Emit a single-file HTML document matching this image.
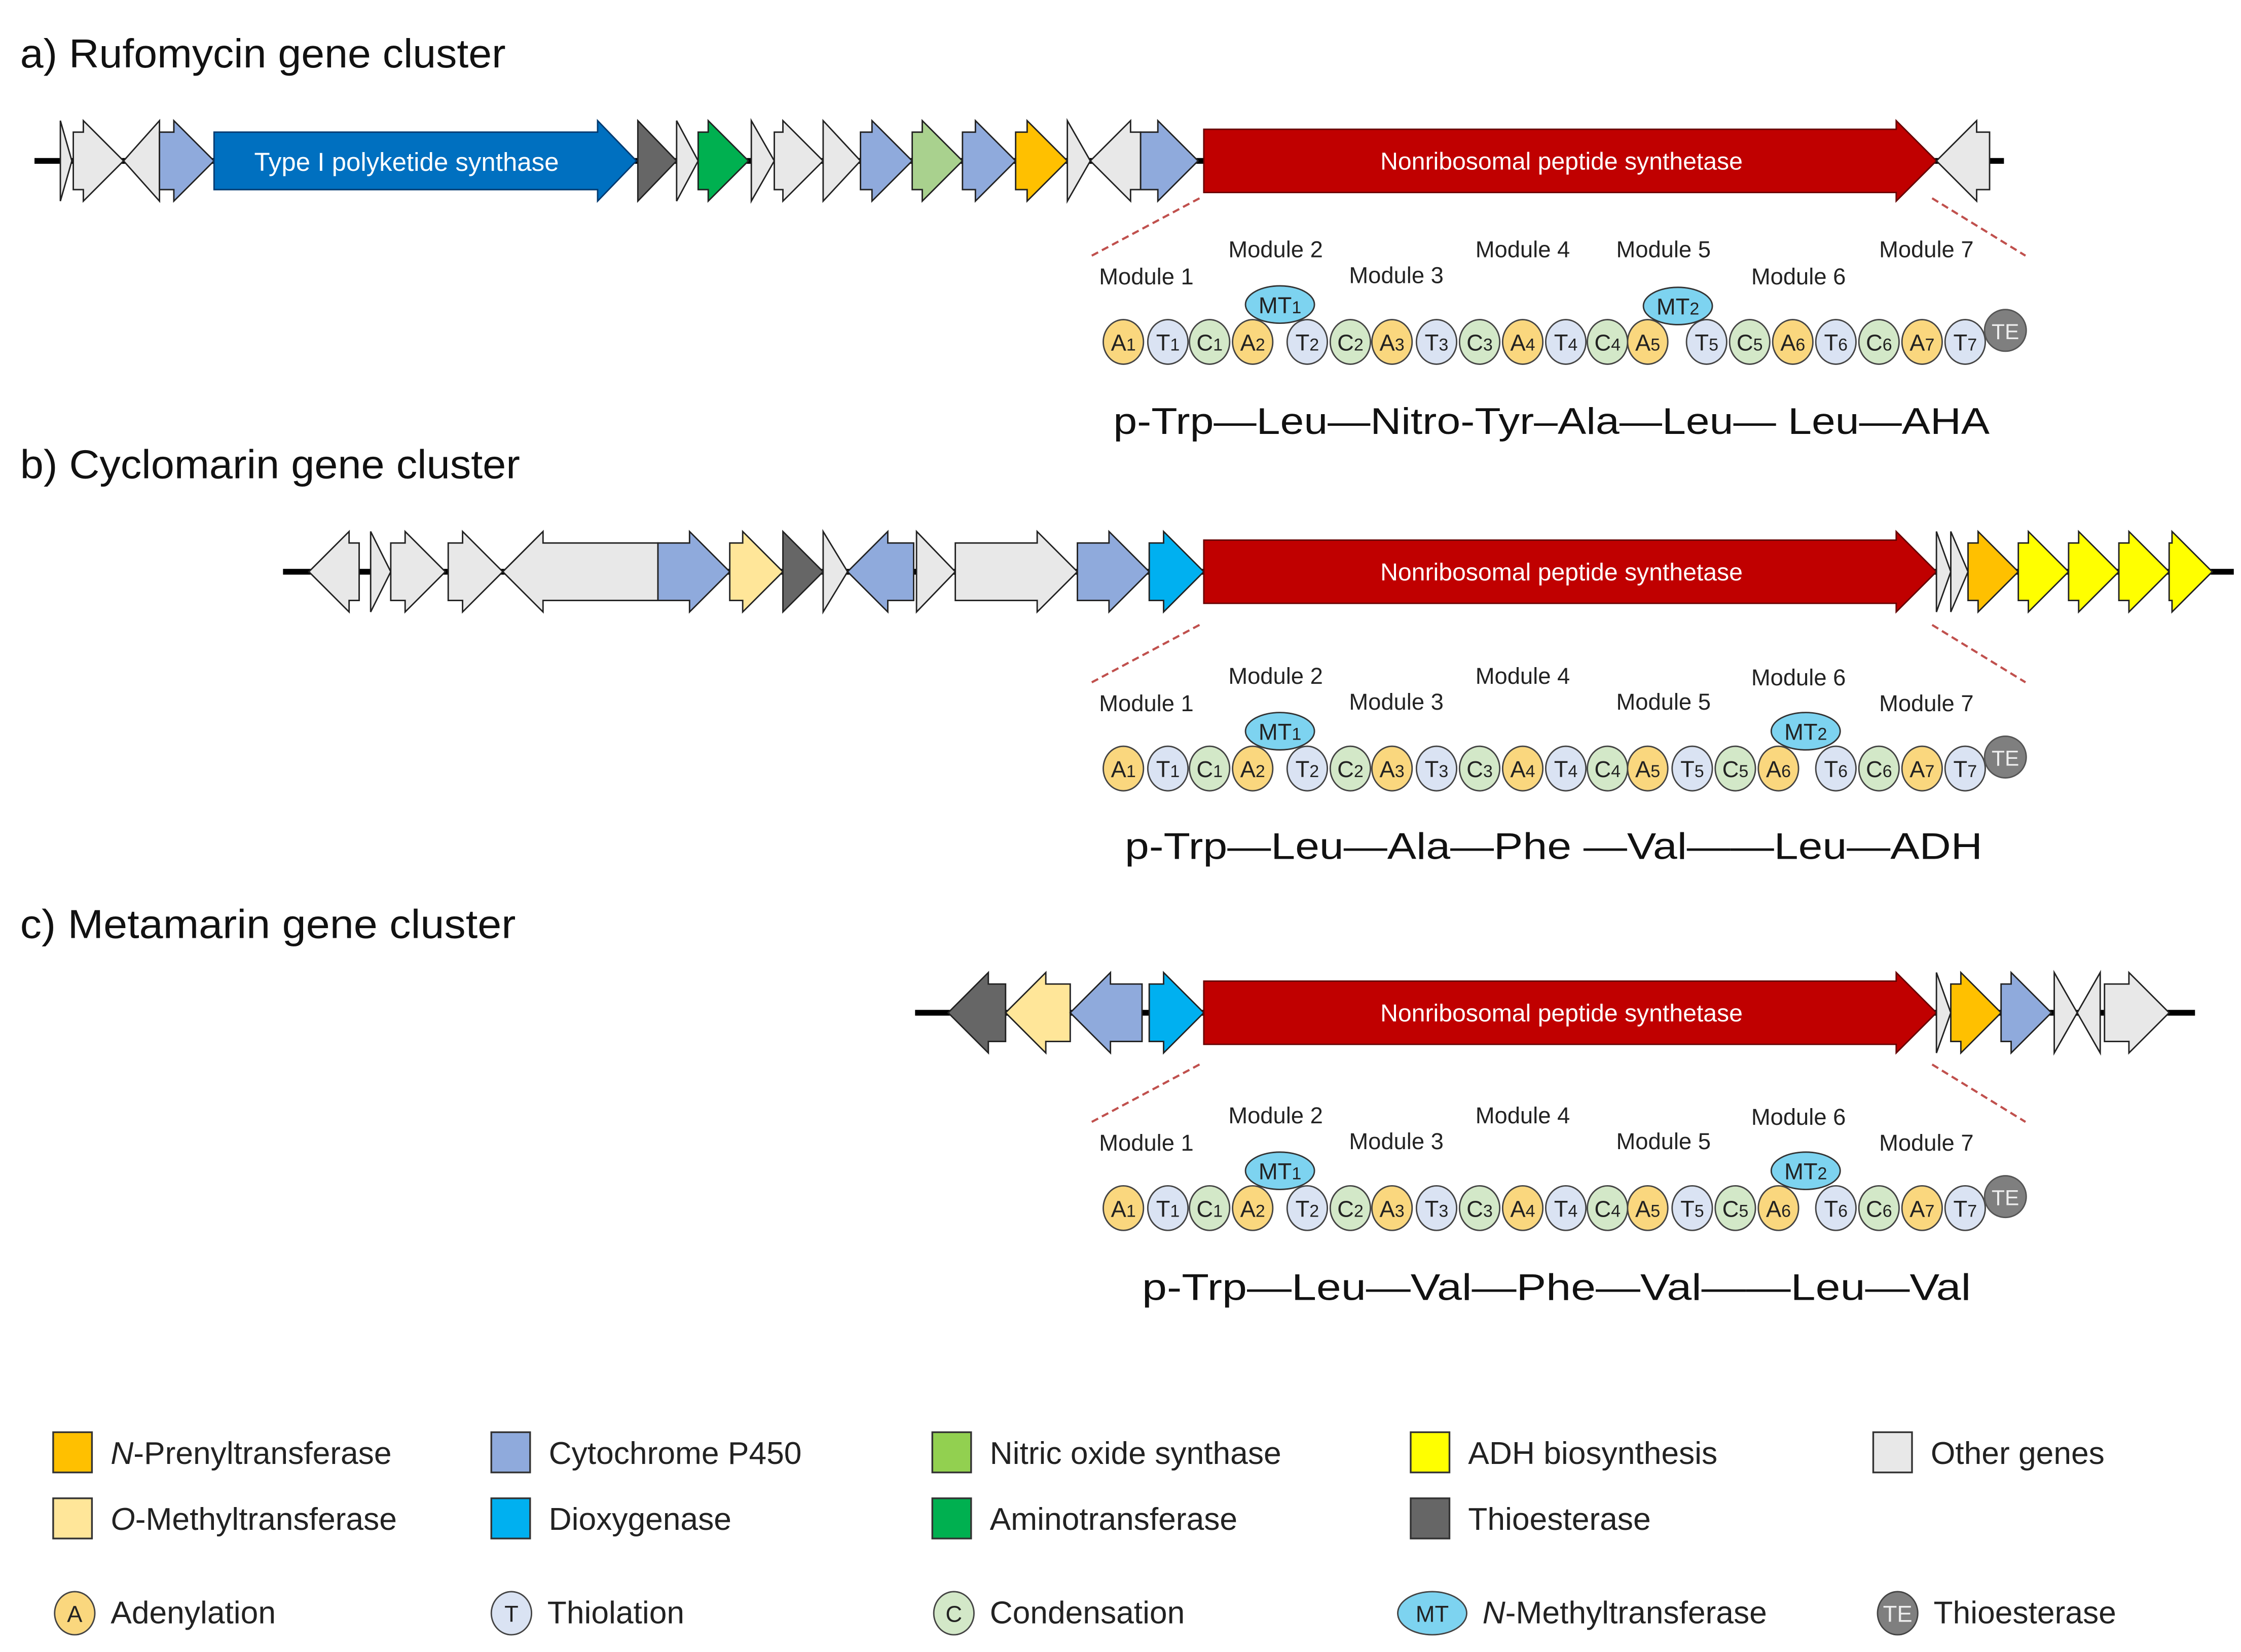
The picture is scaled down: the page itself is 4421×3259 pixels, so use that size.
<!DOCTYPE html>
<html><head><meta charset="utf-8"><style>
html,body{margin:0;padding:0;background:#fff;}
svg{display:block;}
text{font-family:"Liberation Sans",sans-serif;}
</style></head><body>
<svg id="s" width="4421" height="3259" viewBox="0 0 1560 1150" xmlns="http://www.w3.org/2000/svg">
<rect width="1560" height="1150" fill="#fff"/>
<g id="g"></g>
</svg>
<script>
var g=document.getElementById('g'),out='';
function gene(x1,x2,cy,dir,fill,hl,bh,hh,stroke){
  hl=hl||28;bh=bh||20;hh=hh||28;stroke=stroke||'#222';
  var L=x2-x1;if(hl>L)hl=L;
  var p;
  if(dir>0){var h=x2-hl;p=[[x1,cy-bh],[h,cy-bh],[h,cy-hh],[x2,cy],[h,cy+hh],[h,cy+bh],[x1,cy+bh]];}
  else{var h=x1+hl;p=[[x2,cy-bh],[h,cy-bh],[h,cy-hh],[x1,cy],[h,cy+hh],[h,cy+bh],[x2,cy+bh]];}
  out+='<polygon points="'+p.map(function(q){return q.join(',')}).join(' ')+'" fill="'+fill+'" stroke="'+stroke+'" stroke-width="1"/>';
}
function line(x1,x2,cy){out+='<line x1="'+x1+'" y1="'+cy+'" x2="'+x2+'" y2="'+cy+'" stroke="#000" stroke-width="4"/>';}
function txt(x,y,s,size,anchor,fill,extra){out+='<text x="'+x+'" y="'+y+'" font-size="'+size+'" text-anchor="'+(anchor||'start')+'" fill="'+(fill||'#111')+'" '+(extra||'')+'>'+s+'</text>';}
var W='#e8e8e8',B='#8faadc',PKS='#0070c0',DG='#666666',GR='#00b050',LG='#a9d18e',OR='#ffc000',LY='#ffe699',CY='#00b0f0',RED='#c00000',YE='#ffff00';
function nrps(cy){gene(838,1348,cy,1,RED,28,22,28,'#600');txt(1087,cy+6,'Nonribosomal  peptide synthetase',17,'middle','#fff');}
var y=112;line(24,1395,y);
gene(42,50,y,1,W);gene(51,86,y,1,W);gene(86,111,y,-1,W);gene(111,149,y,1,B);
gene(149,443,y,1,PKS,27,20,28,'#003a70');txt(283,119,'Type I polyketide synthase',18,'middle','#fff');
gene(444,471,y,1,DG);gene(471,486,y,1,W);gene(486,521,y,1,GR);gene(523,539,y,1,W);gene(539,573,y,1,W);gene(573,599,y,1,W);
gene(599,635,y,1,B);gene(635,670,y,1,LG);gene(670,707,y,1,B);gene(707,743,y,1,OR);gene(743,759,y,1,W);gene(759,794,y,-1,W);gene(794,834,y,1,B);
nrps(y);gene(1348,1385,y,-1,W);
y=398;line(197,1555,y);
gene(215,250,y,-1,W);gene(258,272,y,1,W);gene(272,310,y,1,W);gene(312,350,y,1,W);gene(350,458,y,-1,W);
gene(458,508,y,1,B);gene(508,545,y,1,LY);gene(545,573,y,1,DG);gene(573,590,y,1,W);gene(590,636,y,-1,B);gene(638,665,y,1,W);
gene(665,750,y,1,W);gene(750,800,y,1,B);gene(800,838,y,1,CY);nrps(y);
gene(1348,1358,y,1,W);gene(1358,1370,y,1,W);gene(1370,1405,y,1,OR);gene(1405,1440,y,1,YE);gene(1440,1475,y,1,YE);gene(1475,1510,y,1,YE);gene(1510,1540,y,1,YE);
y=705;line(637,1528,y);
gene(660,700,y,-1,DG);gene(700,745,y,-1,LY);gene(745,795,y,-1,B);gene(800,838,y,1,CY);nrps(y);
gene(1348,1358,y,1,W);gene(1358,1393,y,1,OR);gene(1393,1428,y,1,B);gene(1430,1446,y,1,W);gene(1446,1462,y,-1,W);gene(1465,1510,y,1,W);
txt(14,47,'a) Rufomycin gene cluster',28,'start','#111','textLength="338" lengthAdjust="spacingAndGlyphs"');
txt(14,333,'b) Cyclomarin gene cluster',28,'start','#111','textLength="348" lengthAdjust="spacingAndGlyphs"');
txt(14,653,'c) Metamarin gene cluster',28,'start','#111','textLength="345" lengthAdjust="spacingAndGlyphs"');
var AC='#fad77e',TC='#dae3f3',CC='#d3e8c8',MC='#7dd3f0';
function dom(x,y,l,sub,fill){out+='<ellipse cx="'+x+'" cy="'+y+'" rx="14" ry="15.5" fill="'+fill+'" stroke="#444" stroke-width="1"/>';
  out+='<text x="'+x+'" y="'+(y+6)+'" font-size="16" text-anchor="middle" fill="#222">'+l+'<tspan font-size="12">'+sub+'</tspan></text>';}
function mods(by,dy,rest,mt1,mt2,labY){
  var names=[['A',1,782],['T',1,813],['C',1,842],['A',2,872],['T',2,910],['C',2,940],['A',3,969],['T',3,1000],['C',3,1030],['A',4,1060],['T',4,1090],['C',4,1119],['A',5,1147]].concat(rest);
  [[835,by-100,760,by-60],[1345,by-100,1410,by-60]].forEach(function(d){out+='<line x1="'+d[0]+'" y1="'+d[1]+'" x2="'+d[2]+'" y2="'+d[3]+'" stroke="#c0504d" stroke-width="1.5" stroke-dasharray="5,3"/>';});
  names.forEach(function(n){dom(n[2],by,n[0],n[1],n[0]=='A'?AC:n[0]=='T'?TC:CC);});
  out+='<circle cx="1396" cy="'+(by-8)+'" r="14.5" fill="#7f7f7f" stroke="#555"/><text x="1396" y="'+(by-2)+'" font-size="15" text-anchor="middle" fill="#eee">TE</text>';
  [mt1,mt2].forEach(function(m){out+='<ellipse cx="'+m[0]+'" cy="'+m[1]+'" rx="24" ry="13" fill="'+MC+'" stroke="#333"/><text x="'+m[0]+'" y="'+(m[1]+6)+'" font-size="16" text-anchor="middle" fill="#222">MT<tspan font-size="12">'+m[2]+'</tspan></text>';});
  labY.forEach(function(l,i){txt(l[0],by+l[1],'Module '+(i+1),16,'middle','#222');});
}
var restA=[['T',5,1188],['C',5,1218],['A',6,1248],['T',6,1278],['C',6,1308],['A',7,1338],['T',7,1368]];
var restB=[['T',5,1178],['C',5,1208],['A',6,1238],['T',6,1278],['C',6,1308],['A',7,1338],['T',7,1368]];
mods(238,0,restA,[891,212,1],[1168,213,2],[[798,-40],[888,-59],[972,-41],[1060,-59],[1158,-59],[1252,-40],[1341,-59]]);
mods(535,0,restB,[891,509,1],[1257,509,2],[[798,-40],[888,-59],[972,-41],[1060,-59],[1158,-41],[1252,-58],[1341,-40]]);
mods(841,0,restB,[891,815,1],[1257,815,2],[[798,-40],[888,-59],[972,-41],[1060,-59],[1158,-41],[1252,-58],[1341,-40]]);
txt(775,302,'p-Trp—Leu—Nitro-Tyr–Ala—Leu— Leu—AHA',26,'start','#111','textLength="610" lengthAdjust="spacingAndGlyphs"');
txt(783,598,'p-Trp—Leu—Ala—Phe —Val——Leu—ADH',26,'start','#111','textLength="597" lengthAdjust="spacingAndGlyphs"');
txt(795,905,'p-Trp—Leu—Val—Phe—Val——Leu—Val',26,'start','#111','textLength="577" lengthAdjust="spacingAndGlyphs"');
function sq(x,y,fill,label){out+='<rect x="'+x+'" y="'+y+'" width="27" height="28" fill="'+fill+'" stroke="#333" stroke-width="1.2"/>';txt(x+40,y+22,label,22,'start','#222');}
sq(37,997,OR,'<tspan font-style="italic">N</tspan>-Prenyltransferase');sq(37,1043,LY,'<tspan font-style="italic">O</tspan>-Methyltransferase');
sq(342,997,B,'Cytochrome P450');sq(342,1043,CY,'Dioxygenase');
sq(649,997,'#92d050','Nitric oxide synthase');sq(649,1043,GR,'Aminotransferase');
sq(982,997,YE,'ADH biosynthesis');sq(982,1043,DG,'Thioesterase');
sq(1304,997,W,'Other genes');
function lc(x,fill,l,label,rx,tx){out+='<ellipse cx="'+x+'" cy="1123" rx="'+(rx||14)+'" ry="15" fill="'+fill+'" stroke="#444"/>';txt(x,1129,l,16,'middle',fill=='#7f7f7f'?'#eee':'#222');txt(x+(tx||25),1130,label,22,'start','#222');}
lc(52,AC,'A','Adenylation');lc(356,TC,'T','Thiolation');lc(664,CC,'C','Condensation');
lc(997,MC,'MT','<tspan font-style="italic">N</tspan>-Methyltransferase',24,35);lc(1321,'#7f7f7f','TE','Thioesterase');
g.innerHTML=out;
</script>
</body></html>
